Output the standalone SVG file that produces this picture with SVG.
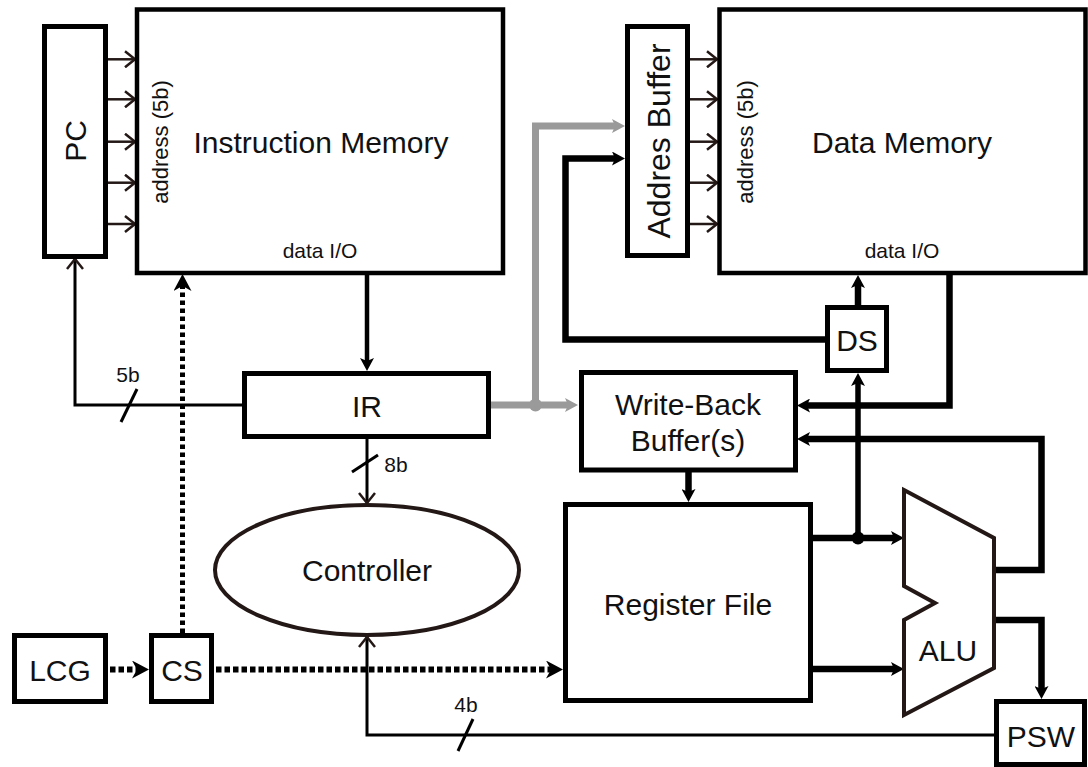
<svg xmlns="http://www.w3.org/2000/svg" width="1088" height="767" viewBox="0 0 1088 767">
<style>
.box{fill:#fff;stroke:#000;stroke-width:5}
.mem{fill:#fff;stroke:#000;stroke-width:4.5}
.t{font-family:"Liberation Sans",Arial,sans-serif;fill:#111;text-anchor:middle}
.big{font-size:30px}
.mid{font-size:22px}
.sm{font-size:21px}
.thin{fill:none;stroke:#231815;stroke-width:2.5}
.fb{fill:none;stroke:#000;stroke-width:3}
.thick{fill:none;stroke:#000;stroke-width:6.5}
.gray{fill:none;stroke:#9a9a9a;stroke-width:7}
.dot{fill:none;stroke:#000;stroke-width:6;stroke-dasharray:5.5 3}
.vdot{fill:none;stroke:#000;stroke-width:5;stroke-dasharray:4.5 3.5}
</style>
<defs>
<marker id="op" markerUnits="userSpaceOnUse" viewBox="-1 -1 13 18" markerWidth="13" markerHeight="18" refX="10" refY="8" orient="auto">
<path d="M0,0 L10,8 L0,16" fill="none" stroke="#231815" stroke-width="2.5"/>
</marker>
<marker id="fa" markerUnits="userSpaceOnUse" viewBox="0 0 13 14" markerWidth="13" markerHeight="14" refX="3" refY="7" orient="auto">
<path d="M0,0 L13,7 L0,14 L3,7 z" fill="#000"/>
</marker>
<marker id="fg" markerUnits="userSpaceOnUse" viewBox="0 0 13 14" markerWidth="13" markerHeight="14" refX="3" refY="7" orient="auto">
<path d="M0,0 L13,7 L0,14 L3,7 z" fill="#9a9a9a"/>
</marker>
<marker id="fd" markerUnits="userSpaceOnUse" viewBox="0 0 17 18" markerWidth="17" markerHeight="18" refX="5" refY="9" orient="auto">
<path d="M0,0 L17,9 L0,18 L5,9 z" fill="#000"/>
</marker>
</defs>

<g id="connectors">
<path class="thin" marker-end="url(#op)" d="M108,59.3 H135"/>
<path class="thin" marker-end="url(#op)" d="M108,99.3 H135"/>
<path class="thin" marker-end="url(#op)" d="M108,141.7 H135"/>
<path class="thin" marker-end="url(#op)" d="M108,182.7 H135"/>
<path class="thin" marker-end="url(#op)" d="M108,224 H135"/>
<path class="thin" marker-end="url(#op)" d="M690,59.3 H717"/>
<path class="thin" marker-end="url(#op)" d="M690,99.3 H717"/>
<path class="thin" marker-end="url(#op)" d="M690,141.7 H717"/>
<path class="thin" marker-end="url(#op)" d="M690,182.7 H717"/>
<path class="thin" marker-end="url(#op)" d="M690,224 H717"/>
<path fill="none" stroke="#000" stroke-width="4.5" marker-end="url(#fa)" d="M367,275 V361"/>
<path class="fb" marker-end="url(#op)" d="M367,439 V503"/>
<path class="fb" d="M352,472 L378,455"/>
<text class="t sm" x="396" y="472">8b</text>
<path class="fb" marker-end="url(#op)" d="M242,405 H75 V259"/>
<path class="fb" d="M137,389 L121,422"/>
<text class="t sm" x="128" y="382">5b</text>
<path class="fb" marker-end="url(#op)" d="M994,735 H367 V637"/>
<path class="fb" d="M473,719 L458,751"/>
<text class="t sm" x="466" y="712">4b</text>
<path class="gray" marker-end="url(#fg)" d="M491,405 H568"/>
<path class="gray" marker-end="url(#fg)" d="M535.5,405 V126 H615"/>
<circle cx="535.5" cy="405" r="6.5" fill="#9a9a9a"/>
<path class="thick" marker-end="url(#fa)" d="M825,339.5 H565.5 V158.5 H615"/>
<path class="thick" marker-end="url(#fa)" d="M858,305 V285"/>
<path fill="none" stroke="#000" stroke-width="5.5" marker-end="url(#fa)" d="M858,538 V383"/>
<path class="thick" marker-end="url(#fa)" d="M813,538 H894"/>
<circle cx="858" cy="538" r="6.5" fill="#000"/>
<path class="thick" marker-end="url(#fa)" d="M813,669 H894"/>
<path class="thick" marker-end="url(#fa)" d="M949.5,273 V405.5 H807"/>
<path class="thick" marker-end="url(#fa)" d="M994,570 H1041.5 V439 H807"/>
<path class="thick" marker-end="url(#fa)" d="M994,620 H1041.5 V689"/>
<path class="thick" marker-end="url(#fa)" d="M688.5,472 V492"/>
<path class="dot" marker-end="url(#fd)" d="M110,669.5 H137"/>
<path class="dot" marker-end="url(#fd)" d="M216,669.5 H551"/>
<path class="vdot" marker-end="url(#fd)" d="M182.5,633 V286"/>
</g>

<g id="pc">
<rect class="box" x="44.5" y="26.5" width="61" height="230"/>
<text class="t big" transform="translate(86,141) rotate(-90)">PC</text>
</g>

<g id="instruction-memory">
<rect class="mem" x="137" y="9.5" width="366" height="263.5"/>
<text class="t mid" transform="translate(168,142) rotate(-90)">address (5b)</text>
<text class="t big" x="321" y="153">Instruction Memory</text>
<text class="t sm" x="320" y="258">data I/O</text>
</g>

<g id="addres-buffer">
<rect class="box" x="627.5" y="26.5" width="60" height="229"/>
<text class="t" style="font-size:32px" transform="translate(670,141) rotate(-90)">Addres Buffer</text>
</g>

<g id="data-memory">
<rect class="mem" x="719.5" y="9.5" width="366" height="263.5"/>
<text class="t mid" transform="translate(753,142) rotate(-90)">address (5b)</text>
<text class="t big" x="902" y="153">Data Memory</text>
<text class="t sm" x="902" y="258">data I/O</text>
</g>

<g id="ir">
<rect class="box" x="244.5" y="373.5" width="244" height="63"/>
<text class="t big" x="367" y="417">IR</text>
</g>

<g id="write-back">
<rect class="box" x="581.5" y="372.5" width="214" height="97.5"/>
<text class="t big" x="688" y="415">Write-Back</text>
<text class="t big" x="688" y="451">Buffer(s)</text>
</g>

<g id="ds">
<rect class="box" x="827.5" y="307.5" width="59" height="63"/>
<text class="t big" x="857" y="351">DS</text>
</g>

<g id="controller">
<ellipse cx="367" cy="570" rx="152" ry="65" fill="#fff" stroke="#231815" stroke-width="4"/>
<text class="t big" x="367" y="581">Controller</text>
</g>

<g id="register-file">
<rect class="box" x="565.5" y="504.5" width="245" height="196"/>
<text class="t big" x="688" y="615">Register File</text>
</g>

<g id="alu">
<polygon points="904,490 994,538 994,668 904,715 904,620 935,603 904,586" fill="#fff" stroke="#231815" stroke-width="4"/>
<text class="t big" x="948" y="661">ALU</text>
</g>

<g id="psw">
<rect class="box" x="996.5" y="701.5" width="88" height="63"/>
<text class="t big" x="1041" y="747">PSW</text>
</g>

<g id="lcg">
<rect class="box" x="14.5" y="635.5" width="91" height="66"/>
<text class="t big" x="60" y="681">LCG</text>
</g>

<g id="cs">
<rect class="box" x="151.5" y="635.5" width="60" height="66"/>
<text class="t big" x="182" y="681">CS</text>
</g>
</svg>
